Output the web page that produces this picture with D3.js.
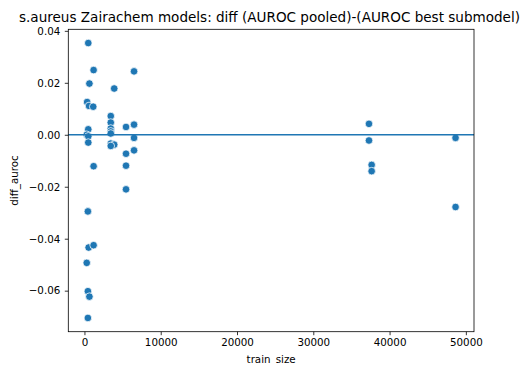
<!DOCTYPE html>
<html>
<head>
<meta charset="utf-8">
<script src="https://cdn.jsdelivr.net/npm/d3@7"></script>
<style>
  html, body { margin: 0; padding: 0; background: #fff; }
  svg { display: block; font-family: "DejaVu Sans", sans-serif; }
</style>
</head>
<body>
<svg id="chart" width="522" height="365"></svg>
<script>
// ---- data ----
const trainSize = [
  500, 1200, 6500, 650, 3900, 350, 600, 1150, 3450, 3450,
  6500, 5450, 3450, 3450, 3450, 500, 300, 500, 6500, 500,
  3450, 3900, 3450, 6500, 5450, 1200, 5450, 5450, 450, 550,
  1200, 300, 450, 650, 450, 37300, 37300, 37650, 37650, 48650,
  48650
];
const diffAuroc = [
  0.0353, 0.0249, 0.0244, 0.0197, 0.0178, 0.0126, 0.0111, 0.0108, 0.0072, 0.0047,
  0.0039, 0.0030, 0.0024, 0.0013, 0.0005, 0.0021, 0.0000, -0.0006, -0.0012, -0.0030,
  -0.0034, -0.0038, -0.0043, -0.0060, -0.0073, -0.0121, -0.0119, -0.0210, -0.0295, -0.0434,
  -0.0425, -0.0493, -0.0602, -0.0623, -0.0705, 0.0042, -0.0022, -0.0116, -0.0140, -0.0012,
  -0.0278
];
const xTicks = [0, 10000, 20000, 30000, 40000, 50000];
const yTicks = [0.04, 0.02, 0.00, -0.02, -0.04, -0.06];
const titleText = "s.aureus Zairachem models: diff (AUROC pooled)-(AUROC best submodel)";
const xLabel = "train_size";
const yLabel = "diff_auroc";

// ---- layout ----
const svg = d3.select("#chart");
const L = 68.3, R = 474, T = 29.3, B = 331.7;
const color = "#1f77b4";

function padded(ext) {
  const p = (ext[1] - ext[0]) * 0.05;
  return [ext[0] - p, ext[1] + p];
}
const x = d3.scaleLinear().domain(padded(d3.extent(trainSize))).range([L, R]);
const y = d3.scaleLinear().domain(padded(d3.extent(diffAuroc))).range([B, T]);

const pts = trainSize.map((v, i) => ({x: v, y: diffAuroc[i]}));

// points
svg.append("g").selectAll("circle").data(pts).join("circle")
  .attr("cx", d => x(d.x)).attr("cy", d => y(d.y)).attr("r", 3.8)
  .attr("fill", color).attr("stroke", "#fff").attr("stroke-width", 0.75);

// zero line
svg.append("line")
  .attr("x1", L).attr("x2", R).attr("y1", y(0)).attr("y2", y(0))
  .attr("stroke", color).attr("stroke-width", 1.5);

// axes
const fmtY = v => (v < 0 ? "\u2212" : "") + Math.abs(v).toFixed(2);
const xAxis = d3.axisBottom(x).tickValues(xTicks).tickFormat(d3.format("d"))
  .tickSizeOuter(0).tickSize(3.5).tickPadding(3.5);
const yAxis = d3.axisLeft(y).tickValues(yTicks).tickFormat(fmtY)
  .tickSizeOuter(0).tickSize(3.5).tickPadding(4.5);

const gx = svg.append("g").attr("transform", `translate(0,${B})`).call(xAxis);
const gy = svg.append("g").attr("transform", `translate(${L},0)`).call(yAxis);
[gx, gy].forEach(g => {
  g.select(".domain").remove();
  g.selectAll(".tick line").attr("stroke", "#000").attr("stroke-width", 0.8);
  g.selectAll(".tick text").attr("fill", "#000").style("font-size", "10.3px")
    .style("font-family", "DejaVu Sans, sans-serif");
});

// frame
svg.append("rect").attr("x", L).attr("y", T).attr("width", R - L).attr("height", B - T)
  .attr("fill", "none").attr("stroke", "#000").attr("stroke-width", 0.8);

// labels
const title = svg.append("text").attr("x", 269.5).attr("y", 22).attr("text-anchor", "middle")
  .style("font-size", "12px").attr("fill", "#000").text(titleText);
const tw = title.node().getComputedTextLength();
if (tw > 0) title.style("font-size", (12 * 501 / tw).toFixed(2) + "px");

svg.append("text").attr("x", (L + R) / 2).attr("y", 362.5).attr("text-anchor", "middle")
  .style("font-size", "10.3px").attr("fill", "#000").text(xLabel);
svg.append("text").attr("transform", `translate(17.5,${(T + B) / 2}) rotate(-90)`)
  .attr("text-anchor", "middle").style("font-size", "10.3px").attr("fill", "#000").text(yLabel);
</script>
</body>
</html>
